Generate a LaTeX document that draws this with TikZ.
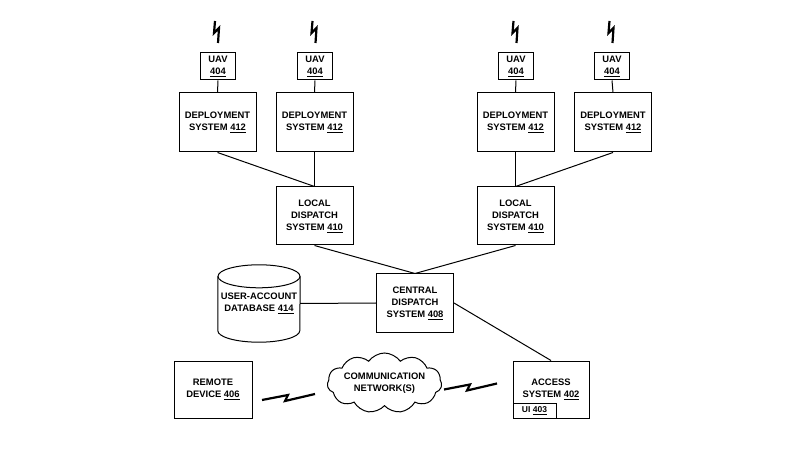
\documentclass[tikz,border=0pt]{standalone}
\usepackage{fontspec}
\setmainfont{Liberation Sans}
\usetikzlibrary{shapes.symbols}
\newcommand{\labfont}{\fontsize{9.4}{12}\selectfont\bfseries}
\newcommand{\boltv}[1]{\draw[boltline] (#1) ++(-1.5,11) -- ++(-1,-12) -- ++(5,5) -- ++(-1,-15);}
\newcommand{\bolth}[1]{\draw[boltline] (#1) ++(-26.5,-3) -- ++(26,5) -- ++(-3,-6) -- ++(30,7);}
\begin{document}
\begin{tikzpicture}[x=1pt,y=1pt,
  box/.style={draw, line width=1pt, align=center, inner sep=1pt, font=\labfont},
  uavbox/.style={box, minimum width=35pt, minimum height=27pt},
  bigbox/.style={box, minimum width=77pt, minimum height=58pt},
  conn/.style={line width=1pt},
  boltline/.style={line width=2.2pt, line join=miter}]
\useasboundingbox (0,0) rectangle (800,450);
% UAVs
\node[uavbox] (u1) at (218,383.5) {UAV\\\underline{404}};
\node[uavbox] (u2) at (315,383.5) {UAV\\\underline{404}};
\node[uavbox] (u3) at (516,383.5) {UAV\\\underline{404}};
\node[uavbox] (u4) at (612,383.5) {UAV\\\underline{404}};
% deployment systems
\node[bigbox, minimum height=59pt] (d1) at (217.5,327.5) {DEPLOYMENT\\SYSTEM \underline{412}};
\node[bigbox, minimum height=59pt] (d2) at (314.5,327.5) {DEPLOYMENT\\SYSTEM \underline{412}};
\node[bigbox, minimum height=59pt] (d3) at (515.5,327.5) {DEPLOYMENT\\SYSTEM \underline{412}};
\node[bigbox, minimum height=59pt] (d4) at (613,327.5) {DEPLOYMENT\\SYSTEM \underline{412}};
% local dispatch
\node[bigbox] (l1) at (314.5,234) {LOCAL\\DISPATCH\\SYSTEM \underline{410}};
\node[bigbox] (l2) at (515.5,234) {LOCAL\\DISPATCH\\SYSTEM \underline{410}};
% central
\node[bigbox] (c) at (415,147) {CENTRAL\\DISPATCH\\SYSTEM \underline{408}};
% database
\node[align=center, font=\labfont, minimum width=82pt, minimum height=77pt, inner sep=0pt] (db) at (259,146.5) {USER-ACCOUNT\\DATABASE \underline{414}};
\draw[conn] ([yshift=-11.5pt]db.north west) -- ([yshift=11.5pt]db.south west)
  arc[start angle=180, end angle=360, x radius=41pt, y radius=11.5pt]
  -- ([yshift=-11.5pt]db.north east);
\draw[conn] ([yshift=-11.5pt]db.north) ellipse [x radius=41pt, y radius=11.5pt];
% remote, access
\node[box, minimum width=78pt, minimum height=57pt] (r) at (213,60.5) {REMOTE\\DEVICE \underline{406}};
\node[box, minimum width=76pt, minimum height=57pt] (a) at (551,60.5) {ACCESS\\SYSTEM \underline{402}};
\node[box, minimum width=43pt, minimum height=15pt, anchor=south west, font=\fontsize{8.5}{10}\selectfont\bfseries] (ui) at (a.south west) {UI \underline{403}};
% cloud
\node[cloud, draw, line width=1pt, cloud puffs=11, cloud puff arc=110, cloud ignores aspect, minimum width=105pt, minimum height=60pt, inner sep=0pt, align=center, font=\labfont] (net) at (384.5,67) {COMMUNICATION\\NETWORK(S)};
% connectors
\foreach \i in {1,2,3,4} \draw[conn] (u\i.south) -- (d\i.north);
\draw[conn] (d1.south) -- (l1.north);
\draw[conn] (d2.south) -- (l1.north);
\draw[conn] (d3.south) -- (l2.north);
\draw[conn] (d4.south) -- (l2.north);
\draw[conn] (l1.south) -- (c.north);
\draw[conn] (l2.south) -- (c.north);
\draw[conn] (db.east) -- (c.west);
\draw[conn] (c.east) -- (a.north);
% bolts
\coordinate (b1) at (216.5,418);
\coordinate (b2) at (314,418);
\coordinate (b3) at (515,418);
\coordinate (b4) at (611,418);
\boltv{b1}\boltv{b2}\boltv{b3}\boltv{b4}
\coordinate (bl) at (288.5,53);
\coordinate (br) at (470.5,63.5);
\bolth{bl}\bolth{br}
\end{tikzpicture}
\end{document}
